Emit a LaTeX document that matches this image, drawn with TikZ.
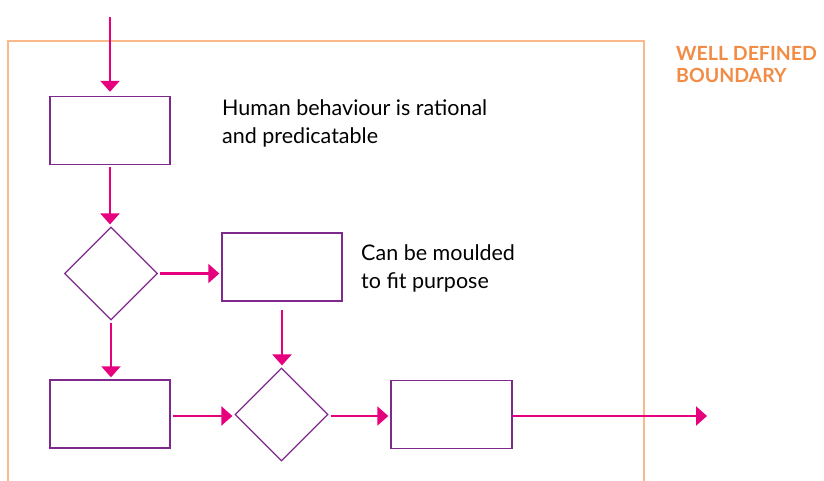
\documentclass[tikz,border=0pt]{standalone}
\usepackage{fontspec}
\setmainfont{Lato}
\usetikzlibrary{shapes,arrows.meta}
\definecolor{flowpink}{HTML}{E6007E}
\definecolor{flowpurple}{HTML}{7D2A8C}
\definecolor{edgeorange}{HTML}{F9B98A}
\definecolor{labelorange}{HTML}{F28C45}

\begin{document}
\begin{tikzpicture}[x=1pt,y=-1pt]
        \tikzstyle{every node}+=[inner sep=0pt]
        \tikzstyle{procbox}=[draw=flowpurple, line width=1.4pt, rectangle, minimum width=120pt, minimum height=68pt]
        \tikzstyle{decision}=[draw=flowpurple, line width=1.2pt, diamond, minimum width=93pt, minimum height=93pt]
        \tikzstyle{flow}=[draw=flowpink, line width=2.2pt, -{Triangle[length=11pt,width=19pt]}, shorten >=2pt, shorten <=2pt]
        \tikzstyle{note}=[anchor=base west, align=left, font=\fontsize{21.5}{28}\selectfont]
        \useasboundingbox (0,0) rectangle (824,480);
        \clip (0,0) rectangle (824,480);
        \draw [edgeorange, line width=2.4pt] (8,490) -- (8,41) -- (644,41) -- (644,490);
        \node [anchor=base west, align=left, text=labelorange, font=\fontsize{19.5}{22}\selectfont\bfseries] (boundary) at (676,82) {WELL DEFINED\\BOUNDARY};
        \coordinate (entry) at (110,15);
        \coordinate (exit) at (709,416);
        \node [procbox] (rational) at (110,130.5) {};
        \node [decision] (check) at (111,273.5) {};
        \node [procbox] (mould) at (282,267) {};
        \node [procbox] (act) at (110,414) {};
        \node [decision] (merge) at (281.5,414.5) {};
        \node [procbox, minimum width=121pt] (result) at (451.5,414.5) {};
        \node [note] (rationaltext) at (222,143) {Human behaviour is rational\\and predicatable};
        \node [note] (mouldtext) at (361,288) {Can be moulded\\to fit purpose};
        \draw [flow, shorten >=4pt] (entry) -- (rational);
        \draw [flow] (rational.south) -- (rational.south |- check.north);
        \draw [flow] (check.east) -- (check.east -| mould.west);
        \draw [flow] (check.south) -- (check.south |- act.north);
        \draw [flow, shorten <=8pt] (mould.south) -- (mould.south |- merge.north);
        \draw [flow] (act.east |- 0,416) -- (merge.west |- 0,416);
        \draw [flow] (merge.east |- 0,416) -- (result.west |- 0,416);
        \draw [flow, shorten <=0pt] (result.east |- 0,416) -- (exit);
        \end{tikzpicture}
\end{document}
